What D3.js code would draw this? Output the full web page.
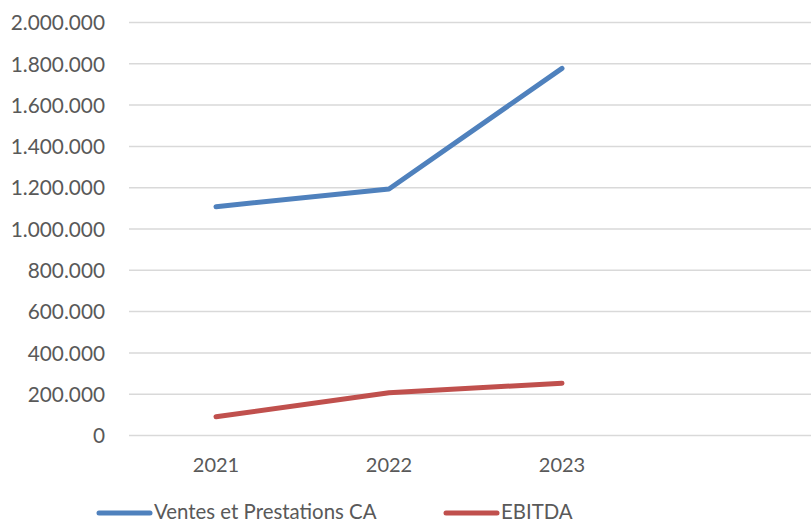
<!DOCTYPE html>
<html><head><meta charset="utf-8">
<script src="https://cdn.jsdelivr.net/npm/d3@7"></script>
<style>body{margin:0;background:#fff;} svg{display:block;}</style>
</head><body>
<script>
const categories = ["2021", "2022", "2023"];
const seriesNames = ["Ventes et Prestations CA", "EBITDA"];
const ventesCA = [1108000, 1194000, 1778000];
const ebitda = [91000, 207000, 253000];
const yTicks = [0, 200000, 400000, 600000, 800000, 1000000, 1200000, 1400000, 1600000, 1800000, 2000000];
const colors = ["#4f81bd", "#c0504d"];

const W = 811, H = 523;
const svg = d3.select("body").append("svg").attr("width", W).attr("height", H);
const font = "Lato, 'Open Sans', sans-serif";

const x = d3.scaleBand().domain([...categories, "_a"]).range([129.5, 821.5]);
const y = d3.scaleLinear().domain([0, 2000000]).range([435.5, 22.5]);

const fmt = v => d3.format(",")(v).replace(/,/g, ".");

// gridlines
svg.append("g").selectAll("line").data(yTicks).join("line")
  .attr("x1", 129).attr("x2", W)
  .attr("y1", d => y(d)).attr("y2", d => y(d))
  .attr("stroke", "#d9d9d9").attr("stroke-width", 1.5);

// y axis labels
const yAxis = d3.axisLeft(y).tickValues(yTicks).tickFormat(fmt).tickSize(0).tickPadding(0);
const gy = svg.append("g").attr("transform", "translate(105,0)").call(yAxis);
gy.select(".domain").remove();
gy.selectAll("text").attr("font-family", font).attr("font-size", 20.8).attr("fill", "#595959").attr("dy", "0.35em");

// x axis labels
const xAxis = d3.axisBottom(x).tickValues(categories).tickSize(0).tickPadding(0);
const gx = svg.append("g").attr("transform", "translate(0,458)").call(xAxis);
gx.select(".domain").remove();
gx.selectAll("text").attr("font-family", font).attr("font-size", 20).attr("fill", "#595959").attr("dy", "0.71em");

const line = d3.line().x((d, i) => x(categories[i]) + x.bandwidth() / 2).y(d => y(d));
[ventesCA, ebitda].forEach((s, k) => {
  svg.append("path").datum(s).attr("d", line)
    .attr("fill", "none").attr("stroke", colors[k]).attr("stroke-width", 5)
    .attr("stroke-linecap", "round").attr("stroke-linejoin", "round");
});

// legend
const legendX = [99, 446];
const lg = svg.append("g");
seriesNames.forEach((n, k) => {
  lg.append("line").attr("x1", legendX[k]).attr("x2", legendX[k] + 51)
    .attr("y1", 513).attr("y2", 513).attr("stroke", colors[k]).attr("stroke-width", 5)
    .attr("stroke-linecap", "round");
  lg.append("text").attr("x", legendX[k] + 55).attr("y", 512).attr("dy", "0.35em")
    .attr("font-family", font).attr("font-size", 20.4).attr("fill", "#595959").text(n);
});
</script>
</body></html>
